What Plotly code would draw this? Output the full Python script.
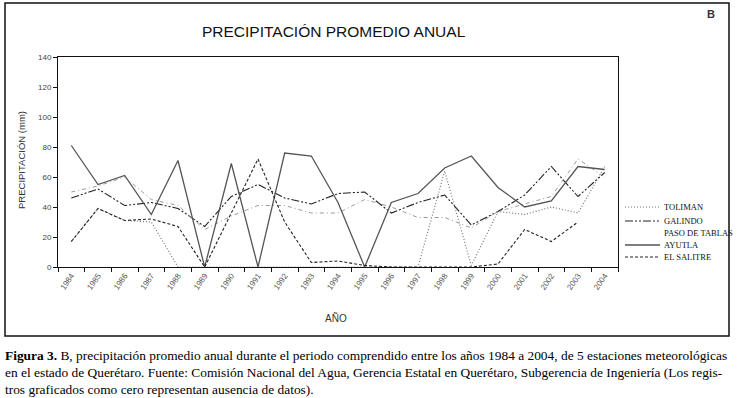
import plotly.graph_objects as go

years = ["1984", "1985", "1986", "1987", "1988", "1989", "1990", "1991", "1992", "1993",
         "1994", "1995", "1996", "1997", "1998", "1999", "2000", "2001", "2002", "2003", "2004"]

toliman = [17, 39, 31, 30, 0, 0, 0, 0, 0, 0, 0, 0, 0, 0, 64, 1, 37, 35, 40, 36, 67]
galindo = [46, 52, 41, 43, 39, 27, 47, 55, 46, 42, 49, 50, 36, 43, 48, 28, 37, 48, 67, 47, 63]
paso_de_tablas = [50, 54, 60, 45, 41, 25, 34, 41, 41, 36, 36, 45, 40, 33, 33, 26, 37, 42, 47, 72, 60]
ayutla = [81, 55, 61, 35, 71, 0, 69, 0, 76, 74, 43, 0, 43, 49, 66, 74, 53, 40, 44, 67, 65]
el_salitre = [17, 39, 31, 32, 27, 0, 36, 72, 30, 3, 4, 1, 0, 0, 0, 0, 2, 25, 17, 30, None]

series_names = ["TOLIMAN", "GALINDO", "PASO DE TABLAS", "AYUTLA", "EL SALITRE"]
series_vals = [toliman, galindo, paso_de_tablas, ayutla, el_salitre]
series_colors = ["#777777", "#222222", "#999999", "#555555", "#222222"]
series_dash = ["1px,2px", "8px,2px,2px,2px,2px,2px", "4px,3px,1px,3px", "solid", "3px,2px"]
series_width = [1.2, 1.1, 1.0, 1.3, 1.1]

# layout geometry (pixels)
W, H = 738, 398
L, R, T, B = 58, 618, 57, 267


def px_x(p):
    return (p - L) / (R - L)


def px_y(p):
    return (B - p) / (B - T)


fig = go.Figure()
for name, vals, col, dsh, w in zip(series_names, series_vals, series_colors, series_dash, series_width):
    fig.add_trace(go.Scatter(x=years, y=vals, mode="lines", name=name,
                             line=dict(color=col, dash=dsh, width=w),
                             showlegend=False, connectgaps=False))

shapes = []
annotations = []

# outer frame
shapes.append(dict(type="rect", xref="paper", yref="paper",
                   x0=px_x(5), x1=px_x(729), y0=px_y(336), y1=px_y(3),
                   line=dict(color="#111111", width=1.5), fillcolor="rgba(0,0,0,0)", layer="below"))

# manual legend
leg_y = [207, 221, 233, 245, 257]
for name, col, dsh, w, yy in zip(series_names, series_colors, series_dash, series_width, leg_y):
    if name != "PASO DE TABLAS":
        shapes.append(dict(type="line", xref="paper", yref="paper",
                           x0=px_x(625), x1=px_x(660), y0=px_y(yy), y1=px_y(yy),
                           line=dict(color=col, dash=dsh, width=w)))
    annotations.append(dict(text=name, xref="paper", yref="paper", x=px_x(662), y=px_y(yy),
                            xanchor="left", yanchor="middle", showarrow=False,
                            font=dict(family="Liberation Serif, Times New Roman, serif", size=8.5, color="#111")))

# title
annotations.append(dict(text="PRECIPITACIÓN PROMEDIO ANUAL", xref="paper", yref="paper",
                        x=px_x(334), y=px_y(31), xanchor="center", yanchor="middle", showarrow=False,
                        font=dict(family="Liberation Sans, Arial", size=15.5, color="#111")))
# B label
annotations.append(dict(text="<b>B</b>", xref="paper", yref="paper",
                        x=px_x(711), y=px_y(14), xanchor="center", yanchor="middle", showarrow=False,
                        font=dict(family="Liberation Sans, Arial", size=11, color="#333")))
# x-axis title
annotations.append(dict(text="AÑO", xref="paper", yref="paper",
                        x=px_x(336), y=px_y(318), xanchor="center", yanchor="middle", showarrow=False,
                        font=dict(family="Liberation Sans, Arial", size=10, color="#333")))
# y-axis title
annotations.append(dict(text="PRECIPITACIÓN (mm)", xref="paper", yref="paper",
                        x=px_x(21), y=px_y(160), xanchor="center", yanchor="middle", showarrow=False,
                        textangle=-90,
                        font=dict(family="Liberation Sans, Arial", size=9.5, color="#333")))

# caption
cap_font = dict(family="Liberation Serif, Times New Roman, serif", size=13.4, color="#000")
captions = [
    "<b>Figura 3.</b> B, precipitación promedio anual durante el periodo comprendido entre los años 1984 a 2004, de 5 estaciones meteorológicas",
    "en el estado de Querétaro. Fuente: Comisión Nacional del Agua, Gerencia Estatal en Querétaro, Subgerencia de Ingeniería (Los regis-",
    "tros graficados como cero representan ausencia de datos).",
]
for txt, yy in zip(captions, [355, 372, 389]):
    annotations.append(dict(text=txt, xref="paper", yref="paper", x=px_x(3), y=px_y(yy),
                            xanchor="left", yanchor="middle", showarrow=False, font=cap_font))

fig.update_layout(
    width=W, height=H,
    margin=dict(l=L, r=W - R, t=T, b=H - B, pad=0),
    paper_bgcolor="white", plot_bgcolor="white",
    shapes=shapes, annotations=annotations,
    xaxis=dict(type="category", range=[-0.5, 20.5], tickson="boundaries",
               ticks="outside", ticklen=4, tickcolor="#111", showgrid=False,
               showline=True, linecolor="#111", linewidth=1, mirror=True,
               tickangle=-55, tickfont=dict(family="Liberation Sans, Arial", size=8, color="#555"),
               zeroline=False),
    yaxis=dict(range=[0, 140], dtick=20, ticks="outside", ticklen=4, tickcolor="#111",
               showgrid=False, showline=True, linecolor="#111", linewidth=1, mirror=True,
               tickfont=dict(family="Liberation Sans, Arial", size=8, color="#444"),
               zeroline=False),
)

fig.write_html("out.html", config={"displayModeBar": False},
               post_script="document.body.style.margin='0px';document.body.style.padding='0px';")
